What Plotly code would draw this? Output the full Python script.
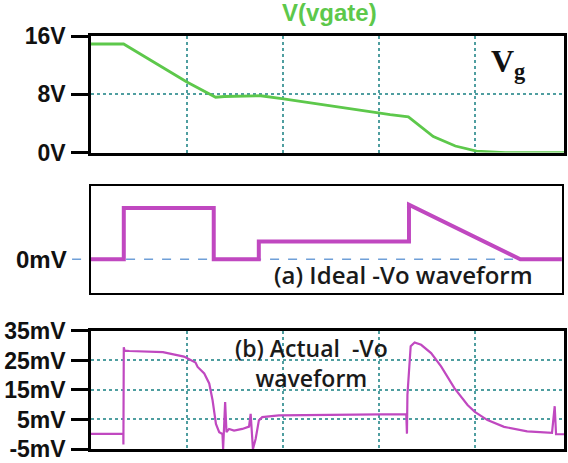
import plotly.graph_objects as go

# Time axis in grid divisions (one division per vertical grid line)
gate_t = [0, 0.34, 1.0, 1.3, 1.39, 1.69, 1.77, 1.99, 2.44, 2.82, 3.12, 3.31, 3.42, 3.57, 3.80, 4.02, 4.32, 4.94]
gate_v = [14.9, 14.9, 9.7, 7.6, 7.7, 7.75, 7.8, 7.4, 6.5, 5.8, 5.2, 4.9, 3.8, 2.2, 0.9, 0.2, 0.0, 0.0]

ideal_t = [0, 0.342, 0.342, 1.28, 1.28, 1.75, 1.75, 3.316, 3.316, 4.477, 4.91]
ideal_v = [0, 0, 27, 27, 0, 0, 9.3, 9.3, 28.6, 0, 0]

actual_t = [0, 0.337, 0.338, 0.342, 0.35, 0.40, 0.75, 0.97, 1.09, 1.112, 1.181, 1.233, 1.268,
            1.303, 1.337, 1.371, 1.378, 1.399, 1.413, 1.44, 1.492, 1.578, 1.648, 1.665, 1.689,
            1.717, 1.751, 1.786, 1.959, 2.5, 3.0, 3.288, 3.295, 3.30, 3.334, 3.375, 3.443,
            3.547, 3.651, 3.79, 3.927, 4.003, 4.135, 4.308, 4.549, 4.808, 4.836, 4.85, 4.94]
actual_v = [0.1, 0.1, -3.5, 29.5, 28.3, 28.2, 27.8, 26.3, 24.3, 22.8, 20.6, 17.2, 11.5,
            3.5, 0.7, 0.1, -5.0, 10.9, 0.7, 1.8, 1.25, 1.8, 2.6, 6.9, -5.0,
            -1.6, 4.7, 5.8, 6.4, 6.5, 6.6, 6.8, 0.2, 13.3, 29.8, 31.1, 30.3,
            27.5, 23.0, 15.6, 9.9, 7.6, 4.8, 2.5, 1.0, 0.45, 9.5, 0.0, 0.0]

gate_ticks = [0, 8, 16]
gate_ticktext = ["0V", "8V", "16V"]
vo_ticks = [-5, 5, 15, 25, 35]
vo_ticktext = ["-5mV", "5mV", "15mV", "25mV", "35mV"]

GREEN = "#5dc84b"
PURPLE = "#c048c0"
GRID = "#4f9ea0"
SANS = "Liberation Sans, Arial, sans-serif"
TICK_FONT = dict(family=SANS, size=23, color="#111111")
NOTE_FONT = "Open Sans, sans-serif"

fig = go.Figure()
fig.add_trace(go.Scatter(x=gate_t, y=gate_v, mode="lines", line=dict(color=GREEN, width=2.8),
                         xaxis="x", yaxis="y", showlegend=False))
fig.add_trace(go.Scatter(x=ideal_t, y=ideal_v, mode="lines", line=dict(color=PURPLE, width=4),
                         xaxis="x2", yaxis="y2", showlegend=False))
fig.add_trace(go.Scatter(x=actual_t, y=actual_v, mode="lines", line=dict(color=PURPLE, width=2.2),
                         xaxis="x3", yaxis="y3", showlegend=False))

common_x = dict(range=[0, 4.933], showticklabels=False, ticks="", zeroline=False,
                showline=True, linecolor="black", linewidth=2.5, mirror=True,
                showgrid=True, gridcolor=GRID, griddash="dot", gridwidth=1.5,
                tickmode="linear", tick0=0, dtick=1)
common_y = dict(showline=True, linecolor="black", linewidth=2.5, mirror=True,
                ticks="outside", ticklen=17, tickwidth=3, tickcolor="black",
                zeroline=False, showgrid=True, gridcolor=GRID, griddash="dot", gridwidth=1.5,
                tickfont=TICK_FONT, ticklabelstandoff=1)

fig.update_layout(
    width=568, height=463,
    margin=dict(l=91, r=1, t=36, b=9),
    paper_bgcolor="white", plot_bgcolor="white",
    xaxis=dict(domain=[0, 1], anchor="y", **common_x),
    yaxis=dict(domain=[0.7177, 1.0], anchor="x", range=[0, 16],
               tickvals=gate_ticks, ticktext=[f"<b>{t}</b>" for t in gate_ticktext], **common_y),
    xaxis2=dict(domain=[0, 0.9958], anchor="y2", range=[0, 4.912], showticklabels=False,
                ticks="", showgrid=False, zeroline=False,
                showline=True, linecolor="black", linewidth=2, mirror=True),
    yaxis2=dict(domain=[0.378, 0.6364], anchor="x2", range=[-17.65, 38.4],
                showticklabels=False, ticks="", showgrid=False, zeroline=False,
                showline=True, linecolor="black", linewidth=2, mirror=True),
    xaxis3=dict(domain=[0, 1], anchor="y3", **common_x),
    yaxis3=dict(domain=[0, 0.2859], anchor="x3", range=[-5, 35],
                tickvals=vo_ticks, ticktext=[f"<b>{t}</b>" for t in vo_ticktext], **common_y),
)

# Dashed zero reference of the ideal waveform, running out from the 0mV label
fig.add_shape(type="line", xref="paper", yref="y2", x0=-0.04, x1=0.94, y0=0, y1=0,
              line=dict(color="#6f9fd8", width=1.5, dash="dash"), layer="below")

fig.add_annotation(text="<b>V(vgate)</b>", xref="paper", yref="paper", x=0.504, y=1.057,
                   showarrow=False, xanchor="center", yanchor="middle",
                   font=dict(family=SANS, size=24, color=GREEN))
fig.add_annotation(text="<b>V<sub>g</sub></b>", xref="paper", yref="paper", x=0.882,
                   y=(454 - 64) / 418, showarrow=False, xanchor="center", yanchor="middle",
                   font=dict(family="Liberation Serif, Times New Roman, serif", size=32, color="#111111"))
fig.add_annotation(text="<b>0mV</b>", xref="paper", yref="y2", x=-0.046, y=0,
                   showarrow=False, xanchor="right", yanchor="middle",
                   font=dict(family=SANS, size=24, color="#111111"))
fig.add_annotation(text="(a) Ideal -Vo waveform", xref="x2", yref="y2", x=3.264, y=-7.8,
                   showarrow=False, xanchor="center", yanchor="middle",
                   font=dict(family=NOTE_FONT, size=24, color="#1a1a1a", weight=600))
fig.add_annotation(text="(b) Actual&nbsp; -Vo<br>waveform", xref="x3", yref="y3", x=2.30, y=24.0,
                   showarrow=False, xanchor="center", yanchor="middle",
                   font=dict(family=NOTE_FONT, size=23, color="#1a1a1a", weight=600))

fig.write_html("out.html")
